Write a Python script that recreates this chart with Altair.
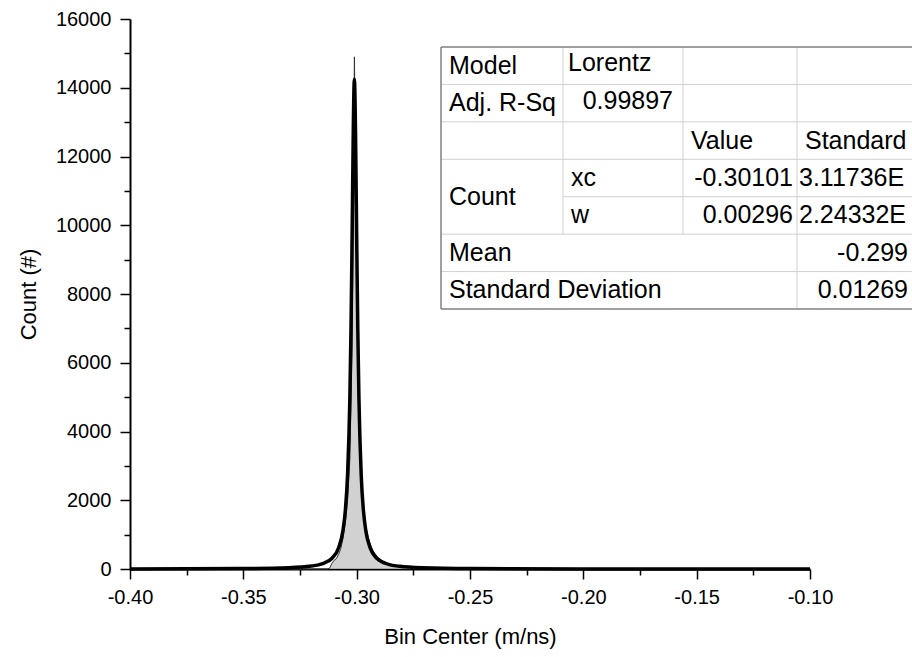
import altair as alt
import pandas as pd

# ---------------- data ----------------
hist_x = [-0.330, -0.320, -0.313, -0.312, -0.311, -0.310, -0.309, -0.308, -0.307,
          -0.306, -0.305, -0.304, -0.303, -0.302, -0.301, -0.300, -0.299, -0.298,
          -0.297, -0.296, -0.295, -0.294, -0.293, -0.292, -0.291, -0.290, -0.288,
          -0.286, -0.284, -0.282, -0.280, -0.275, -0.270, -0.260, -0.250]
hist_y = [0, 0, 0, 20, 150, 250, 300, 420, 600,
          900, 1350, 2000, 3200, 6500, 14900, 9900, 5200, 2900,
          1800, 1250, 950, 720, 560, 450, 370, 300, 210,
          150, 110, 80, 60, 30, 15, 5, 0]

fit_x = [-0.40, -0.35, -0.33, -0.32, -0.315, -0.311, -0.308, -0.306, -0.305,
         -0.304, -0.303, -0.3025, -0.302, -0.3015, -0.30101, -0.3005, -0.300,
         -0.2995, -0.299, -0.298, -0.297, -0.296, -0.294, -0.291, -0.286, -0.281,
         -0.271, -0.25, -0.20, -0.10]
fit_y = [3, 13, 37, 85, 157, 305, 610, 1140, 1700,
         2770, 5000, 7000, 9740, 12750, 14250, 12700, 9700,
         6960, 4970, 2740, 1690, 1130, 607, 303, 137, 77,
         35, 12, 3, 1]

x_major = [-0.40, -0.35, -0.30, -0.25, -0.20, -0.15, -0.10]
x_minor = [-0.375, -0.325, -0.275, -0.225, -0.175, -0.125]
y_major = [0, 2000, 4000, 6000, 8000, 10000, 12000, 14000, 16000]
y_minor = [1000, 3000, 5000, 7000, 9000, 11000, 13000, 15000]

# fit-result table contents
tbl_left_text = ["Model", "Lorentz", "Adj. R-Sq", "Value", "Standard", "Count", "xc", "w",
                 "3.11736E", "2.24332E", "Mean", "Standard Deviation"]
tbl_right_text = ["0.99897", "-0.30101", "0.00296", "-0.299", "0.01269"]

# ---------------- layout ----------------
W, H = 680, 550
FONT = "Liberation Sans"
X_DOM = [-0.40, -0.10]
Y_DOM = [0, 16000]

# table layout (pixel-like table units; row units)
col_edges = [0, 122, 242, 356, 480]
tbl_left_x = [8, 127, 8, 250, 364, 8, 130, 130, 358, 358, 8, 8]
tbl_left_row = [0.5, 0.42, 1.5, 2.5, 2.5, 4.0, 3.5, 4.5, 3.5, 4.5, 5.5, 6.5]
tbl_right_x = [232, 352, 352, 467, 467]
tbl_right_row = [1.44, 3.5, 4.5, 5.5, 6.5]
ROW_PX = 37.43
TBL_LEFT_PX = 311   # offset of table from plot left
TBL_TOP_PX = 28     # offset of table from plot top

hist_df = pd.DataFrame({"x": hist_x, "y": hist_y})
fit_df = pd.DataFrame({"x": fit_x, "y": fit_y})

xs = alt.Scale(domain=X_DOM, nice=False, zero=False)
ys = alt.Scale(domain=Y_DOM, nice=False, zero=False)

common_axis = dict(labelFont=FONT, labelFontSize=20, labelColor="black",
                   tickColor="black", tickWidth=1.5, domainColor="black",
                   domainWidth=2, grid=False, titleFont=FONT, titleFontSize=22,
                   titleFontWeight="normal", titleColor="black",
                   labelFlush=False, labelOverlap=False)

ax_x = alt.Axis(values=x_major, tickSize=10, labelPadding=8,
                labelExpr="replace(format(datum.value, '.2f'), '\u2212', '-')",
                title="Bin Center (m/ns)", titlePadding=19, orient="bottom",
                **common_axis)
ax_y = alt.Axis(values=y_major, tickSize=10, labelPadding=9, format="d",
                title="Count (#)", titlePadding=15, orient="left", **common_axis)
ax_x_minor = alt.Axis(values=x_minor, tickSize=6, tickWidth=1.5, tickColor="black",
                      labels=False, domain=False, grid=False, title=None, orient="bottom")
ax_y_minor = alt.Axis(values=y_minor, tickSize=6, tickWidth=1.5, tickColor="black",
                      labels=False, domain=False, grid=False, title=None, orient="left")

hist = alt.Chart(hist_df).mark_area(
    color="#bdbdbd", line={"color": "#333333", "strokeWidth": 1}, interpolate="linear"
).encode(x=alt.X("x:Q", scale=xs, axis=ax_x), y=alt.Y("y:Q", scale=ys, axis=ax_y))

fit = alt.Chart(fit_df).mark_line(
    color="black", strokeWidth=3.5, interpolate="monotone"
).encode(x=alt.X("x:Q", scale=xs, axis=None), y=alt.Y("y:Q", scale=ys, axis=None))

minor = alt.Chart(fit_df).mark_point(opacity=0).encode(
    x=alt.X("x:Q", scale=xs, axis=ax_x_minor), y=alt.Y("y:Q", scale=ys, axis=ax_y_minor))

# ---------- table ----------
tx = alt.Scale(domain=[-TBL_LEFT_PX, W - TBL_LEFT_PX], nice=False, zero=False)
ty = alt.Scale(domain=[-TBL_TOP_PX / ROW_PX, (H - TBL_TOP_PX) / ROW_PX],
               nice=False, zero=False, reverse=True)

right = col_edges[-1]
bg_df = pd.DataFrame({"x": [0], "x2": [right], "y": [0], "y2": [7]})
inner_df = pd.DataFrame({
    "x":  [0, 0, 0, col_edges[1], 0, 0, col_edges[1], col_edges[2], col_edges[3]],
    "x2": [right, right, right, right, right, right, col_edges[1], col_edges[2], col_edges[3]],
    "y":  [1, 2, 3, 4, 5, 6, 0, 0, 0],
    "y2": [1, 2, 3, 4, 5, 6, 5, 5, 7],
})
outer_df = pd.DataFrame({
    "x":  [0, 0, 0, right],
    "x2": [right, right, 0, right],
    "y":  [0, 7, 0, 0],
    "y2": [0, 7, 7, 7],
})
left_df = pd.DataFrame({"t": tbl_left_text, "x": tbl_left_x, "y": tbl_left_row})
right_df = pd.DataFrame({"t": tbl_right_text, "x": tbl_right_x, "y": tbl_right_row})

def enc2(ch):
    return ch.encode(x=alt.X("x:Q", scale=tx, axis=None), x2="x2:Q",
                     y=alt.Y("y:Q", scale=ty, axis=None), y2="y2:Q")

tbl_bg = enc2(alt.Chart(bg_df).mark_rect(fill="white", clip=False))
tbl_inner = enc2(alt.Chart(inner_df).mark_rule(color="#d0d0d0", strokeWidth=1, clip=False))
tbl_outer = enc2(alt.Chart(outer_df).mark_rule(color="#808080", strokeWidth=1.5, clip=False))
tbl_lt = alt.Chart(left_df).mark_text(
    align="left", baseline="middle", font=FONT, fontSize=25, color="black", clip=False
).encode(x=alt.X("x:Q", scale=tx, axis=None), y=alt.Y("y:Q", scale=ty, axis=None), text="t:N")
tbl_rt = alt.Chart(right_df).mark_text(
    align="right", baseline="middle", font=FONT, fontSize=25, color="black", clip=False
).encode(x=alt.X("x:Q", scale=tx, axis=None), y=alt.Y("y:Q", scale=ty, axis=None), text="t:N")

chart = alt.layer(
    hist, fit, minor, tbl_bg, tbl_inner, tbl_outer, tbl_lt, tbl_rt
).resolve_scale(
    x="independent", y="independent"
).properties(
    width=W, height=H,
    autosize=alt.AutoSizeParams(type="none"),
    padding={"left": 130, "top": 19, "right": 912 - 130 - W, "bottom": 657 - 19 - H},
    background="white",
).configure_view(stroke=None)

chart.save("out.html", embed_options={"renderer": "svg", "actions": False})
